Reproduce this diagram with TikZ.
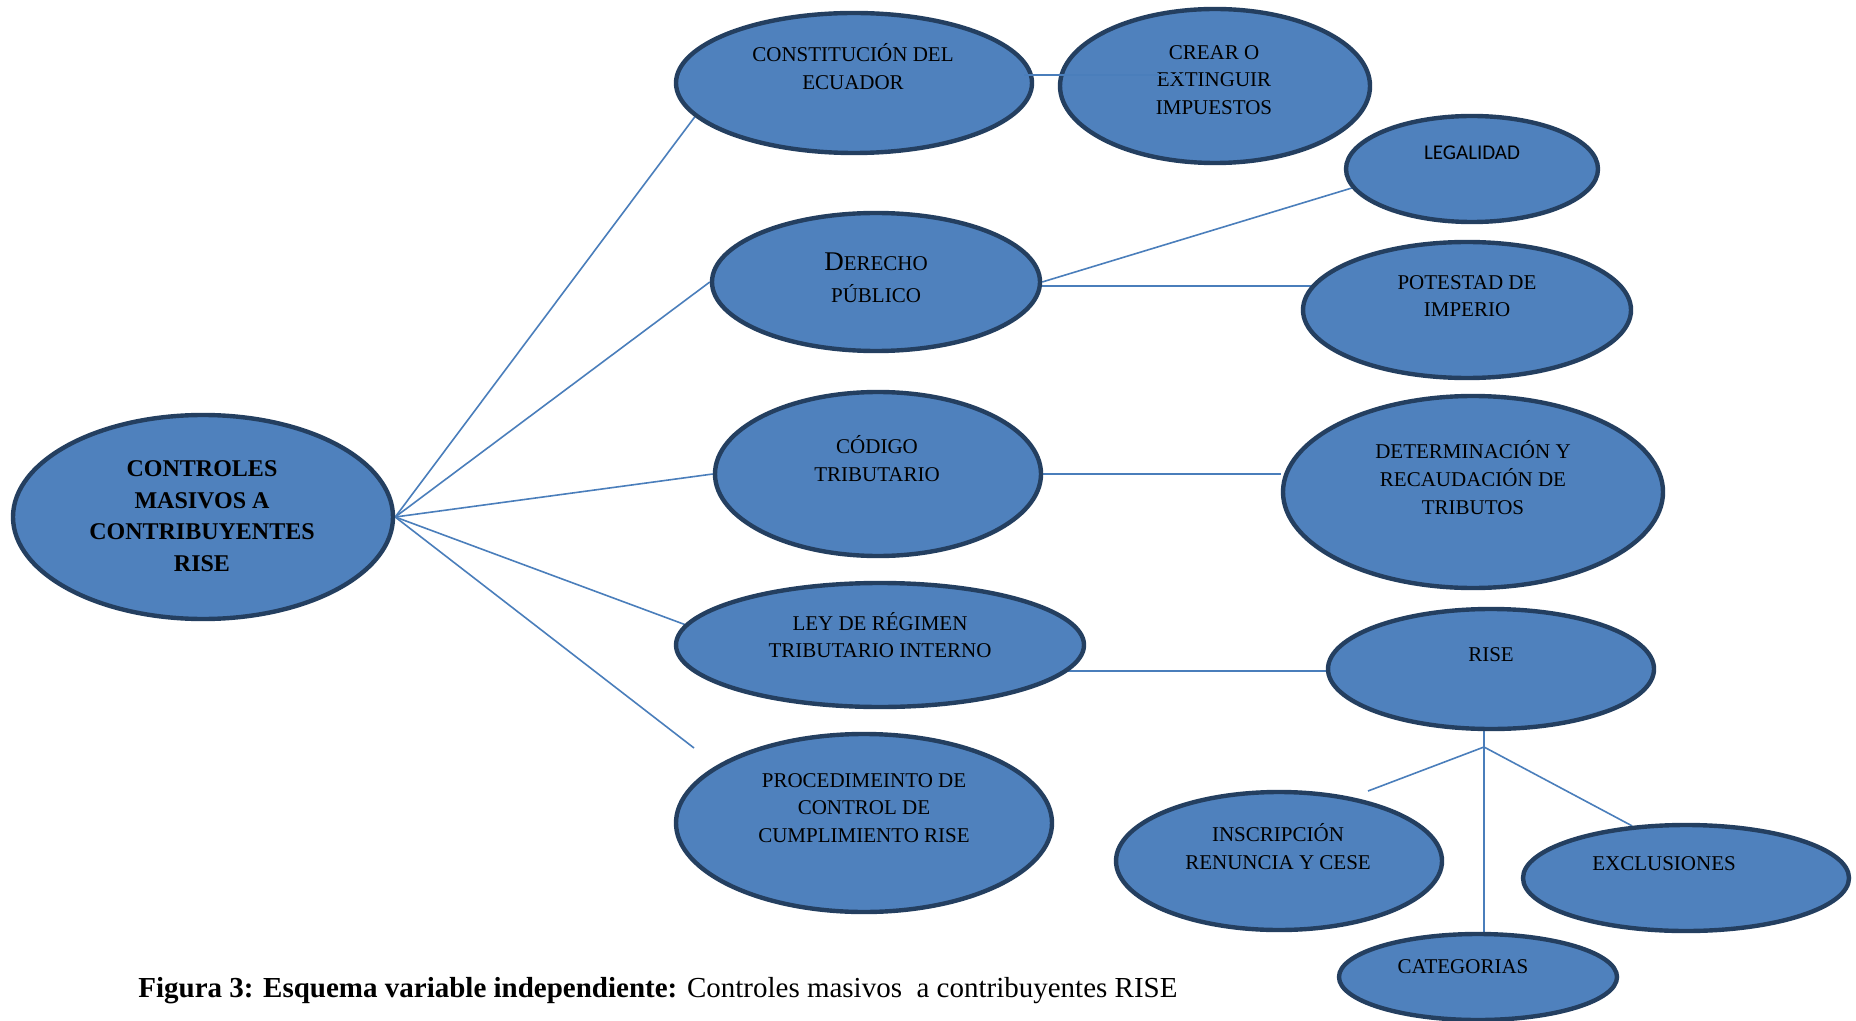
\documentclass[tikz,border=0pt]{standalone}
\usepackage{fontspec}
\setmainfont{Liberation Serif}
\newfontfamily\carlito{Carlito}
\usetikzlibrary{shapes.geometric,calc}
\definecolor{ellfill}{HTML}{4F81BD}
\definecolor{ellborder}{HTML}{243F60}
\definecolor{linkc}{HTML}{4A7EBB}
\pgfdeclarelayer{bg}
\pgfsetlayers{bg,main}
\begin{document}
\begin{tikzpicture}[x=0.5pt,y=-0.5pt,
  ell/.style={ellipse, draw=ellborder, fill=ellfill, line width=2.2pt, inner sep=0pt},
  lbl/.style={align=center, font=\fontsize{10.5}{14}\selectfont, inner sep=0pt, text=black},
  link/.style={draw=linkc, line width=0.8pt}]
\useasboundingbox (0,0) rectangle (1856,1021);

% ellipses
\node[ell, minimum width=190pt, minimum height=102pt] (ctrl) at (203,517) {};
\node[ell, minimum width=178pt, minimum height=70pt] (const) at (854,83) {};
\node[ell, minimum width=155pt, minimum height=77pt] (crear) at (1215,86) {};
\node[ell, minimum width=126pt, minimum height=53pt] (leg) at (1472,169) {};
\node[ell, minimum width=164pt, minimum height=69pt] (der) at (876,282) {};
\node[ell, minimum width=164pt, minimum height=68pt] (pot) at (1467,310) {};
\node[ell, minimum width=163pt, minimum height=82pt] (cod) at (878,474) {};
\node[ell, minimum width=190pt, minimum height=96pt] (det) at (1473,492) {};
\node[ell, minimum width=204pt, minimum height=62pt] (ley) at (880,645) {};
\node[ell, minimum width=163pt, minimum height=60pt] (rise) at (1491,669) {};
\node[ell, minimum width=188pt, minimum height=89pt] (proc) at (864,823) {};
\node[ell, minimum width=163pt, minimum height=69pt] (insc) at (1279,861) {};
\node[ell, minimum width=163pt, minimum height=53pt] (exc) at (1686,878) {};
\node[ell, minimum width=139pt, minimum height=43pt] (cat) at (1478,977) {};

% texts
\node[lbl, font=\bfseries\fontsize{12}{15.8}\selectfont] (tctrl) at (202,516) {CONTROLES\\MASIVOS A\\CONTRIBUYENTES\\RISE};
\node[lbl] (tconst) at (853,67) {CONSTITUCIÓN DEL\\ECUADOR};
\node[lbl, font=\fontsize{10.5}{13.6}\selectfont] (tcrear) at (1214,80) {CREAR O\\EXTINGUIR\\IMPUESTOS};
\node[lbl, font=\carlito\fontsize{10.5}{13}\selectfont] (tleg) at (1472,153) {LEGALIDAD};
\node[lbl, font=\fontsize{10.5}{16}\selectfont] (tder) at (876,278) {{\fontsize{13.5}{16}\selectfont D}ERECHO\\PÚBLICO};
\node[lbl, font=\fontsize{10.5}{13.6}\selectfont] (tpot) at (1467,296) {POTESTAD DE\\IMPERIO};
\node[lbl] (tcod) at (877,459) {CÓDIGO\\TRIBUTARIO};
\node[lbl] (tdet) at (1473,478) {DETERMINACIÓN Y\\RECAUDACIÓN DE\\TRIBUTOS};
\node[lbl, font=\fontsize{10.5}{13.6}\selectfont] (tley) at (880,635) {LEY DE RÉGIMEN\\TRIBUTARIO INTERNO};
\node[lbl] (trise) at (1491,655) {RISE};
\node[lbl, font=\fontsize{10.5}{13.6}\selectfont] (tproc) at (864,808) {PROCEDIMEINTO DE\\CONTROL DE\\CUMPLIMIENTO RISE};
\node[lbl] (tinsc) at (1278,847) {INSCRIPCIÓN\\RENUNCIA Y CESE};
\node[lbl] (texc) at (1664,864) {EXCLUSIONES};
\node[lbl] (tcat) at (1463,967) {CATEGORIAS};

\node[anchor=west, inner sep=0pt, font=\fontsize{14.5}{17}\selectfont] (caption) at (138,991)
  {\textbf{Figura 3: Esquema variable independiente:} Controles masivos\ \ a contribuyentes RISE};

% free ends
\coordinate (procend) at (694,748);
\coordinate (cc1) at (1024,75);
\coordinate (cc2) at (1184,75);
\coordinate (rj) at (1484,747);
\coordinate (inscend) at (1368,791);

\begin{pgfonlayer}{bg}
\fill[white] (0,0) rectangle (1856,1021);
\draw[link] (ctrl.east) -- (const.192);
\draw[link] (ctrl.east) -- (der.west);
\draw[link] (ctrl.east) -- (cod.west);
\draw[link] (ctrl.east) -- (ley.174);
\draw[link] (ctrl.east) -- (procend);
\draw[link] (der.east) -- (leg.189);
\draw[link] ($(der.center)+(0,4)$) -- ($(pot.center |- der.center)+(0,4)$);
\draw[link] (cod.east) -- (cod.east -| det.west);
\draw[link] ($(rise.center)+(0,2)$) -- ($(ley.center |- rise.center)+(0,2)$);
\draw[link] (rj |- rise.south) -- (rj |- cat.north);
\draw[link] (rj) -- (inscend);
\draw[link] (rj) -- (exc.136);
\end{pgfonlayer}
\draw[link] (cc1) -- (cc2);
\end{tikzpicture}
\end{document}
